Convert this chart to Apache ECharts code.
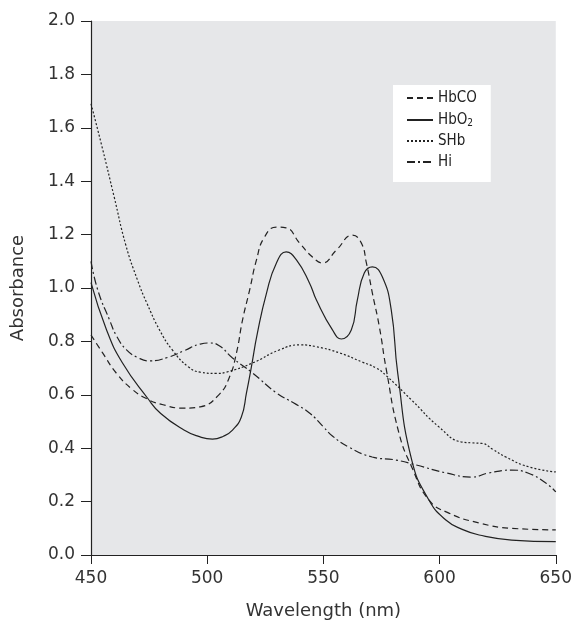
<!DOCTYPE html>
<html>
<head>
<meta charset="utf-8">
<script src="https://cdn.jsdelivr.net/npm/echarts@6/dist/echarts.min.js"></script>
<style>html,body{margin:0;padding:0;background:#fff}#c{width:575px;height:628px}</style>
</head>
<body>
<div id="c"></div>
<script>
// ---- data ----
var seriesNames = ['HbCO', 'HbO2', 'SHb', 'Hi'];

var hbcoWl  = [450,455,461,467.8,474,480,490,497,505,509.6,512.6,515.2,518.2,521.2,524.6,529.8,534,539.7,545.3,549.6,555.6,562.5,566.3,568.5,571.1,574.1,577.1,582.5,588,595.4,604,617,631,650];
var hbcoAbs = [0.824,0.757,0.68,0.62,0.585,0.565,0.55,0.555,0.60,0.667,0.757,0.88,0.99,1.105,1.19,1.228,1.225,1.169,1.116,1.094,1.142,1.198,1.169,1.094,0.98,0.854,0.693,0.457,0.33,0.206,0.157,0.12,0.10,0.094];

var hbo2Wl  = [450,456.7,463.5,474.3,480,490,496,502.3,507,510.9,514.7,516.9,519,521.6,525.5,529.8,534,538.4,544,547,553.9,557.7,562,564.6,567.6,571.1,575.4,579.2,582,588,595.4,602.7,610,617,631,650];
var hbo2Abs = [1.02,0.843,0.72,0.588,0.53,0.468,0.445,0.434,0.445,0.468,0.517,0.607,0.704,0.831,0.98,1.094,1.135,1.105,1.019,0.955,0.843,0.809,0.843,0.955,1.056,1.079,1.041,0.918,0.68,0.356,0.206,0.131,0.095,0.075,0.056,0.05];

var shbWl  = [450,455,460,465,470,474,479.5,485,492,497,504,508.3,519.5,531,540,547,556.9,566.6,572.8,577,588,599.7,609.6,614,618.2,623,628.5,638.4,650];
var shbAbs = [1.69,1.52,1.34,1.16,1.03,0.944,0.843,0.768,0.704,0.685,0.68,0.685,0.719,0.768,0.787,0.78,0.757,0.723,0.70,0.672,0.58,0.48,0.423,0.42,0.418,0.395,0.367,0.33,0.311];

var hiWl  = [450,453,458,461,465.3,470,475.2,483,490,497,501,505,510.9,519.5,529.8,537.3,544,550,554,561,571,581,590,603,614,621,631,638,645.7,650];
var hiAbs = [1.10,0.99,0.88,0.82,0.768,0.74,0.727,0.74,0.765,0.79,0.794,0.785,0.738,0.682,0.607,0.569,0.532,0.48,0.445,0.404,0.367,0.356,0.337,0.307,0.292,0.307,0.318,0.307,0.27,0.236];

var xTicks = [450, 500, 550, 600, 650];
var yTicks = [0.0, 0.2, 0.4, 0.6, 0.8, 1.0, 1.2, 1.4, 1.6, 1.8, 2.0];

function pairs(xs, ys) { return xs.map(function (x, i) { return [x, ys[i]]; }); }

var FONT = '"DejaVu Sans", "Noto Sans", sans-serif';
var LFONT = '"DejaVu Sans Condensed", "DejaVu Sans", sans-serif';
var lineTypes = [[6, 4], 'solid', [2, 2], [8, 3, 2, 3]];
var allData = [pairs(hbcoWl, hbcoAbs), pairs(hbo2Wl, hbo2Abs), pairs(shbWl, shbAbs), pairs(hiWl, hiAbs)];

var chart = echarts.init(document.getElementById('c'), null, { renderer: 'canvas' });
chart.setOption({
  animation: false,
  backgroundColor: '#ffffff',
  grid: { left: 91, right: 19, top: 21, bottom: 73, show: true, backgroundColor: '#e6e7e9', borderWidth: 0 },
  legend: {
    orient: 'vertical', left: 393, top: 85,
    backgroundColor: '#ffffff', padding: [5, 14, 12, 13],
    itemWidth: 26, itemHeight: 14, itemGap: 5,
    itemStyle: { opacity: 0 },
    data: seriesNames,
    textStyle: {
      fontFamily: LFONT, fontSize: 15, color: '#222', lineHeight: 16,
      rich: {
        n: { fontFamily: LFONT, fontSize: 15, color: '#222', lineHeight: 16 },
        s: { fontFamily: LFONT, fontSize: 10, color: '#222', lineHeight: 16, verticalAlign: 'bottom', padding: [7, 0, 0, 0] }
      }
    },
    formatter: function (name) { return name === 'HbO2' ? '{n|HbO}{s|2}' : '{n|' + name + '}'; }
  },
  xAxis: {
    type: 'value', min: 450, max: 650, interval: 50,
    name: 'Wavelength (nm)', nameLocation: 'middle', nameGap: 47,
    nameTextStyle: { fontFamily: FONT, fontSize: 18, color: '#333' },
    axisLine: { lineStyle: { color: '#222', width: 1.2 } },
    axisTick: { show: true, length: 9, inside: false, lineStyle: { color: '#222' } },
    axisLabel: { fontFamily: FONT, fontSize: 17, color: '#333', margin: 15,
      formatter: function (v) { return xTicks.indexOf(v) >= 0 ? String(v) : ''; } },
    splitLine: { show: false }
  },
  yAxis: {
    type: 'value', min: 0, max: 2, interval: 0.2,
    name: 'Absorbance', nameLocation: 'middle', nameGap: 64,
    nameTextStyle: { fontFamily: FONT, fontSize: 18, color: '#333' },
    axisLine: { show: true, lineStyle: { color: '#222', width: 1.2 } },
    axisTick: { show: true, length: 10, inside: false, lineStyle: { color: '#222' } },
    axisLabel: { fontFamily: FONT, fontSize: 17, color: '#333', margin: 16,
      formatter: function (v) { return v.toFixed(1); } },
    splitLine: { show: false }
  },
  series: seriesNames.map(function (n, i) {
    return {
      name: n, type: 'line', data: allData[i], smooth: 0.5,
      showSymbol: false, symbol: 'none', clip: true,
      itemStyle: { color: '#222' },
      lineStyle: { color: '#222', width: 1.2, type: lineTypes[i] }
    };
  })
});
</script>
</body>
</html>
